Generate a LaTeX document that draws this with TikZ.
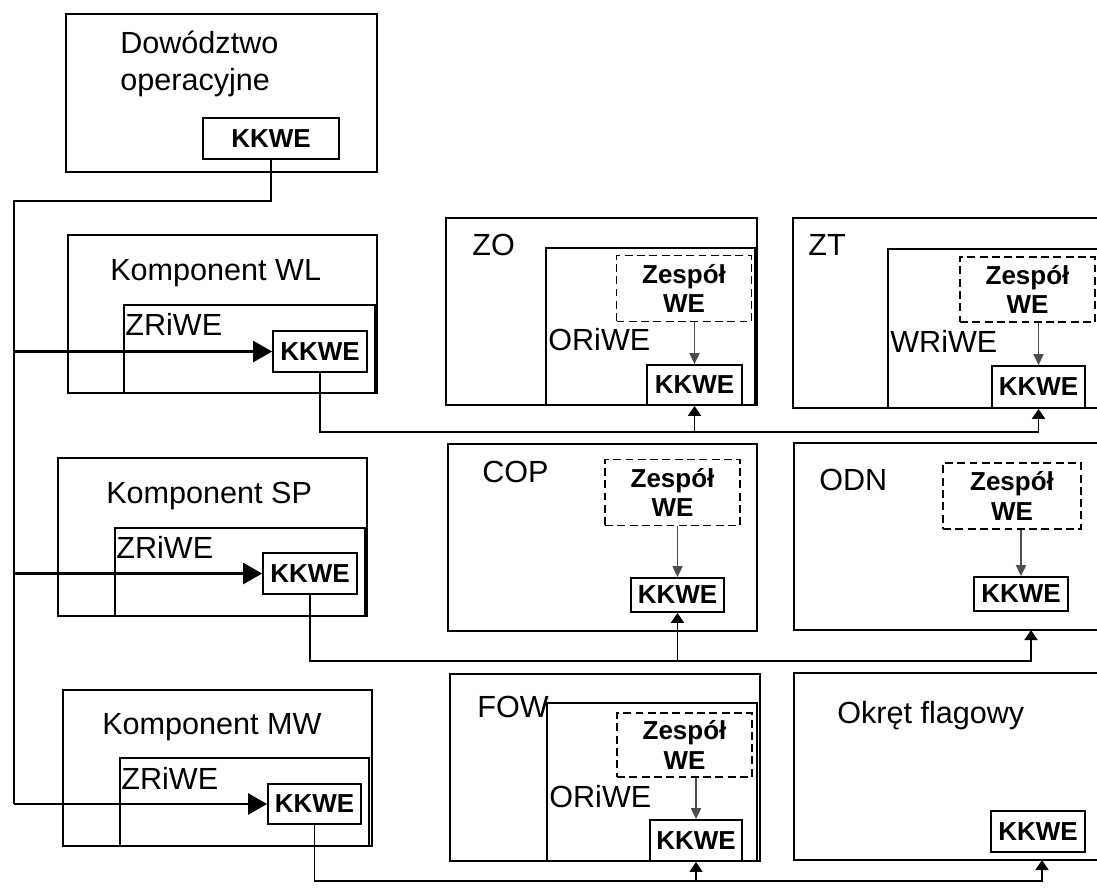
\documentclass[tikz,border=0pt]{standalone}
\usepackage{fontspec}
\setmainfont{Liberation Sans}
\usepackage{tikz}
\usetikzlibrary{arrows.meta}

\begin{document}
\begin{tikzpicture}[x=0.02cm, y=-0.02cm,
		box/.style={draw=black, line width=1.3pt},
		inbox/.style={draw=black, line width=1pt},
		kkwe/.style={shape=rectangle, draw=black, line width=1pt, fill=white, inner sep=0pt, minimum width=1.88cm, minimum height=0.82cm, font=\fontsize{14.8}{17}\selectfont\bfseries},
		zesp/.style={shape=rectangle, draw=black, dash pattern=on 4.5pt off 2.5pt, line width=0.8pt, inner sep=0pt, minimum width=2.7cm, minimum height=1.32cm, align=center, font=\fontsize{14.8}{17}\selectfont\bfseries},
		lbl/.style={anchor=base west, inner sep=0pt, font=\fontsize{17.4}{21}\selectfont},
		link/.style={draw=black, line width=1pt},
		feed/.style={link, line width=1.4pt, -{Triangle[length=0.38cm, width=0.42cm]}},
		up/.style={link, -{Triangle[length=0.2cm, width=0.26cm]}},
		down/.style={draw=gray!60!black, line width=0.9pt, -{Triangle[length=0.22cm, width=0.2cm]}}]
		\useasboundingbox (0,0) rectangle (1097,887);
		\clip (0,0) rectangle (1097,887);
		
		% dowodztwo
		\draw[box] (66,14) rectangle (377,172);
		\node[lbl] (dowA) at (120,53) {Dowództwo};
		\node[lbl] (dowB) at (120,90) {operacyjne};
		\node[kkwe, minimum width=2.72cm] (kkD) at (271,138.5) {KKWE};
		
		% komponenty
		\draw[box] (68,235) rectangle (377,393);
		\draw[inbox] (124,305) rectangle (375,393);
		\node[lbl] (wlT) at (110,280) {Komponent WL};
		\node[lbl] (wlZ) at (125,335) {ZRiWE};
		\node[kkwe] (kkWL) at (320,351.5) {KKWE};
		
		\draw[box] (58,458) rectangle (367,616);
		\draw[inbox] (115,528) rectangle (365,616);
		\node[lbl] (spT) at (106,503) {Komponent SP};
		\node[lbl] (spZ) at (116,558) {ZRiWE};
		\node[kkwe] (kkSP) at (310,573.5) {KKWE};
		
		\draw[box] (63,690) rectangle (372,846);
		\draw[inbox] (120,758) rectangle (369,846);
		\node[lbl] (mwT) at (102,734) {Komponent MW};
		\node[lbl] (mwZ) at (121,789) {ZRiWE};
		\node[kkwe, minimum width=1.86cm, minimum height=0.8cm] (kkMW) at (314.5,804) {KKWE};
		
		% ZO, ZT
		\draw[box] (446,218) rectangle (757,405);
		\draw[inbox] (546,248) rectangle (755,405);
		\node[lbl] (zoT) at (472,255) {ZO};
		\node[lbl] (zoO) at (548,350) {ORiWE};
		\node[zesp] (zoZ) at (684,288.5) {Zespół\\WE};
		\node[kkwe, minimum width=1.9cm, minimum height=0.8cm] (kkZO) at (694.5,385) {KKWE};
		
		\draw[box] (793,218) rectangle (1110,408);
		\draw[inbox] (888,249) rectangle (1110,408);
		\node[lbl] (ztT) at (808,255) {ZT};
		\node[lbl] (ztW) at (890,352) {WRiWE};
		\node[zesp, minimum height=1.3cm] (ztZ) at (1027.5,289.5) {Zespół\\WE};
		\node[kkwe, minimum width=1.86cm, minimum height=0.84cm] (kkZT) at (1038.5,387) {KKWE};
		
		% COP, ODN
		\draw[box] (448,444) rectangle (757,631);
		\node[lbl] (copT) at (482,482) {COP};
		\node[zesp] (copZ) at (672.5,492.5) {Zespół\\WE};
		\node[kkwe, minimum width=1.86cm, minimum height=0.68cm] (kkCOP) at (677.5,595) {KKWE};
		
		\draw[box] (794,443) rectangle (1110,630);
		\node[lbl] (odnT) at (819,490) {ODN};
		\node[zesp, minimum width=2.76cm] (odnZ) at (1012,496) {Zespół\\WE};
		\node[kkwe, minimum width=1.88cm, minimum height=0.68cm] (kkODN) at (1021,594) {KKWE};
		
		% FOW, okret
		\draw[box] (450,674) rectangle (760,861);
		\draw[inbox] (547,703) rectangle (757,861);
		\node[lbl] (fowT) at (477,717) {FOW};
		\node[lbl] (fowO) at (549,807) {ORiWE};
		\node[zesp, minimum height=1.28cm] (fowZ) at (684.5,745) {Zespół\\WE};
		\node[kkwe, minimum width=1.84cm] (kkFOW) at (696,840.5) {KKWE};
		
		\draw[box] (794,673) rectangle (1110,860);
		\node[lbl] (okrT) at (837,723) {Okręt flagowy};
		\node[kkwe] (kkOKR) at (1038,831.5) {KKWE};
		
		% polaczenia
		\coordinate (busT) at (14,201);
		\coordinate (busB) at (14,804);
		\coordinate (rowA) at (0,432);
		\coordinate (rowB) at (0,661);
		\coordinate (rowC) at (0,881);
		\coordinate (odnIn) at (1031,630);
		\coordinate (okrIn) at (1042,860);
		
		\draw[link] (kkD.south) |- (busT) -- (busB);
		\draw[feed] (busT |- kkWL.west) -- (kkWL.west);
		\draw[feed] (busT |- kkSP.west) -- (kkSP.west);
		\draw[feed] (busB) -- (kkMW.west);
		
		\draw[up] (kkWL.south) |- (kkZT.south |- rowA) -- (kkZT.south);
		\draw[up] (kkZO.south |- rowA) -- (kkZO.south);
		\draw[up] (kkSP.south) |- (odnIn |- rowB) -- (odnIn);
		\draw[up] (kkCOP.south |- rowB) -- (kkCOP.south);
		\draw[up] (kkMW.south) |- (okrIn |- rowC) -- (okrIn);
		\draw[up] (kkFOW.south |- rowC) -- (kkFOW.south);
		
		\draw[down] (kkZO.north |- zoZ.south) -- (kkZO.north);
		\draw[down] (kkZT.north |- ztZ.south) -- (kkZT.north);
		\draw[down] (kkCOP.north |- copZ.south) -- (kkCOP.north);
		\draw[down] (kkODN.north |- odnZ.south) -- (kkODN.north);
		\draw[down] (kkFOW.north |- fowZ.south) -- (kkFOW.north);
		
	\end{tikzpicture}
\end{document}
